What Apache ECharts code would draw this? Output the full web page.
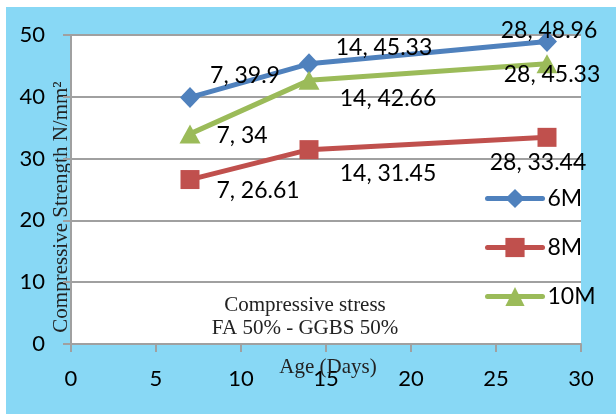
<!DOCTYPE html>
<html>
<head>
<meta charset="utf-8">
<script src="https://cdn.jsdelivr.net/npm/echarts@6/dist/echarts.min.js"></script>
<style>
  html, body { margin: 0; padding: 0; background: #ffffff; }
  #frame { position: absolute; left: 6px; top: 7px; width: 610px; height: 407px; background: #88D8F5; }
  #chart { position: absolute; left: 0; top: 0; width: 616px; height: 414px; }
</style>
</head>
<body>
<div id="frame"></div>
<div id="chart"></div>
<script>
// Age in days at which the cubes were tested
const ages = [7, 14, 28];

// Compressive strength (N/mm²) for each mix
const seriesNames = ['6M', '8M', '10M'];
const strength6M = [39.9, 45.33, 48.96];
const strength8M = [26.61, 31.45, 33.44];
const strength10M = [34, 42.66, 45.33];

// Axis ranges / tick steps
const xMin = 0, xMax = 30, xStep = 5;
const yMin = 0, yMax = 50, yStep = 10;

// Look of each series
const colors = ['#4F81BD', '#C0504D', '#9BBB59'];
const symbols = ['diamond', 'rect', 'triangle'];
const symbolSizes = [[20, 21], [19, 19], [21, 19]];

// Where each "age, strength" label sits relative to its marker (px)
const labelOffsets = [
  [[55, -22], [75, -16], [2, -11]],
  [[68, 11], [79, 24], [-9, 25]],
  [[52, 2], [79, 18], [5, 11]]
];

const sans = 'Lato';
const serif = 'Liberation Serif';
const allValues = [strength6M, strength8M, strength10M];

const series = seriesNames.map((name, s) => ({
  name: name,
  type: 'line',
  symbol: symbols[s],
  symbolSize: symbolSizes[s],
  color: colors[s],
  lineStyle: { width: 5, color: colors[s], cap: 'round', join: 'round' },
  itemStyle: { color: colors[s] },
  emphasis: { disabled: true },
  data: ages.map((a, i) => ({
    value: [a, allValues[s][i]],
    label: { offset: labelOffsets[s][i] }
  })),
  label: {
    show: true,
    position: 'inside',
    align: 'center',
    verticalAlign: 'middle',
    color: '#000',
    fontFamily: sans,
    fontSize: 23,
    formatter: p => p.value[0] + ', ' + p.value[1]
  },
  z: 2 + s
}));

const chart = echarts.init(document.getElementById('chart'), null, { renderer: 'canvas' });
chart.setOption({
  animation: false,
  backgroundColor: 'transparent',
  grid: {
    left: 71, top: 35, right: 35, bottom: 70,
    outerBoundsMode: 'none',
    containLabel: false,
    show: true, backgroundColor: '#ffffff', borderWidth: 0
  },
  legend: {
    orient: 'vertical',
    left: 485, top: 187,
    padding: 0,
    itemWidth: 55, itemHeight: 24, itemGap: 26,
    data: seriesNames,
    lineStyle: { width: 5, cap: 'round' },
    textStyle: { color: '#000', fontFamily: sans, fontSize: 23 }
  },
  xAxis: {
    type: 'value',
    min: xMin, max: xMax, interval: xStep,
    axisLine: { show: true, lineStyle: { color: '#A0A0A0', width: 2 } },
    axisTick: { show: true, length: 8, lineStyle: { color: '#A0A0A0', width: 2 } },
    axisLabel: { color: '#000', fontFamily: sans, fontSize: 22, margin: 24 },
    splitLine: { show: false }
  },
  yAxis: {
    type: 'value',
    min: yMin, max: yMax, interval: yStep,
    axisLine: { show: true, lineStyle: { color: '#A0A0A0', width: 2 } },
    axisTick: { show: true, length: 8, lineStyle: { color: '#A0A0A0', width: 2 } },
    axisLabel: { color: '#000', fontFamily: sans, fontSize: 22, margin: 26 },
    splitLine: { show: true, lineStyle: { color: '#A0A0A0', width: 2 } }
  },
  graphic: [
    {
      type: 'text',
      x: 61, y: 207,
      rotation: Math.PI / 2,
      style: {
        text: 'Compressive Strength N/mm²',
        fontFamily: serif, fontSize: 21, fill: '#222',
        align: 'center', verticalAlign: 'middle'
      }
    },
    {
      type: 'text',
      x: 305, y: 317,
      style: {
        text: 'Compressive stress\nFA 50% - GGBS 50%',
        fontFamily: serif, fontSize: 21, lineHeight: 23, fill: '#222',
        align: 'center', verticalAlign: 'middle'
      }
    },
    {
      type: 'text',
      x: 328, y: 367,
      z: 100,
      style: {
        text: 'Age (Days)',
        fontFamily: serif, fontSize: 21, fill: '#222',
        align: 'center', verticalAlign: 'middle'
      }
    }
  ],
  series: series
});
</script>
</body>
</html>
